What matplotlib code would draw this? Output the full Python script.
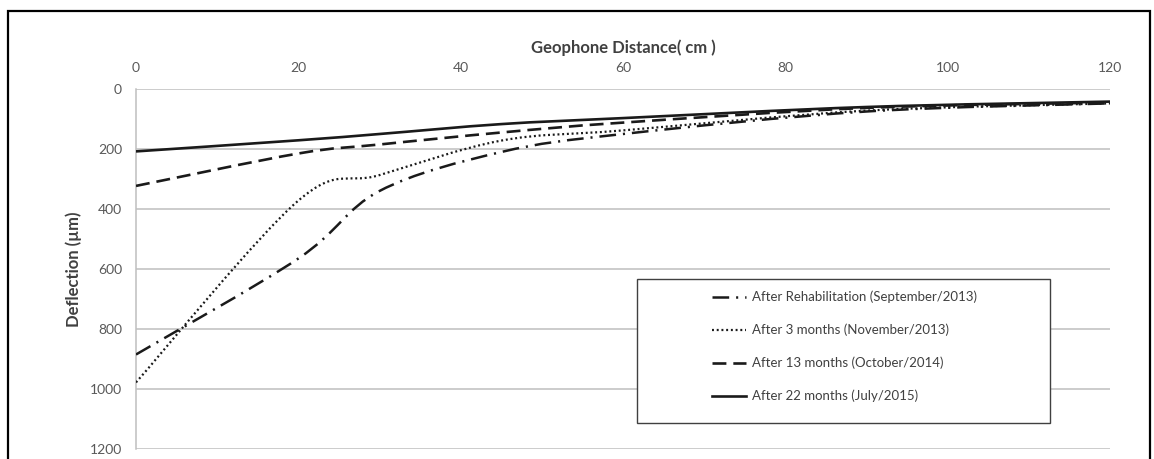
import matplotlib
matplotlib.use("Agg")
import matplotlib.pyplot as plt
from matplotlib.path import Path
from matplotlib.patches import PathPatch, Rectangle
from matplotlib.lines import Line2D

plt.rcParams['font.family'] = ['Lato', 'DejaVu Sans']
plt.rcParams['lines.scale_dashes'] = False

# geophone offsets (cm) and deflection basins (um)
distance = [0, 20, 30, 45, 60, 90, 120]
after_rehab = [885, 565, 340, 210, 150, 75, 48]
after_3m = [978, 372, 287, 172, 138, 72, 48]
after_13m = [323, 215, 185, 145, 112, 63, 45]
after_22m = [208, 171, 150, 117, 97, 60, 42]

labels = [
    "After Rehabilitation (September/2013)",
    "After 3 months (November/2013)",
    "After 13 months (October/2014)",
    "After 22 months (July/2015)",
]
styles = [
    (0, (12, 5, 1.5, 5)),
    (0, (1.4, 2.0)),
    (0, (10, 5)),
    "solid",
]
widths = [1.8, 1.6, 1.9, 1.9]
LINE = "#1a1a1a"
GRID = "#bfbfbf"
TICK = "#595959"


def smooth_path(xs, ys):
    # spreadsheet-style smoothed line: cubic Bezier through each point
    pts = list(zip(xs, ys))
    n = len(pts)
    verts = [pts[0]]
    codes = [Path.MOVETO]
    for i in range(n - 1):
        p0 = pts[i - 1] if i > 0 else pts[i]
        p1 = pts[i]
        p2 = pts[i + 1]
        p3 = pts[i + 2] if i + 2 < n else pts[i + 1]
        c1 = (p1[0] + (p2[0] - p0[0]) / 6, p1[1] + (p2[1] - p0[1]) / 6)
        c2 = (p2[0] - (p3[0] - p1[0]) / 6, p2[1] - (p3[1] - p1[1]) / 6)
        verts += [c1, c2, p2]
        codes += [Path.CURVE4] * 3
    return Path(verts, codes)


fig = plt.figure(figsize=(11.54, 4.59), dpi=100)
ax = fig.add_axes([136 / 1154, 1 - 449 / 459, (1110 - 136) / 1154, (449 - 89) / 459])

series = [after_rehab, after_3m, after_13m, after_22m]
for ys, ls, lw in zip(series, styles, widths):
    patch = PathPatch(smooth_path(distance, ys), fill=False, edgecolor=LINE,
                      linewidth=lw, linestyle=ls, zorder=3)
    ax.add_patch(patch)

ax.set_xlim(0, 120)
ax.set_ylim(1200, 0)
ax.set_xticks(range(0, 121, 20))
ax.set_yticks(range(0, 1201, 200))
ax.xaxis.tick_top()
ax.xaxis.set_label_position('top')
ax.tick_params(axis='both', length=0, labelsize=10, labelcolor=TICK)
ax.tick_params(axis='x', pad=11)
ax.tick_params(axis='y', pad=10)
ax.grid(axis='y', color=GRID, linewidth=1.1)
ax.grid(axis='x', visible=False)
for s in ax.spines.values():
    s.set_visible(False)
ax.spines['left'].set_visible(True)
ax.spines['left'].set_color(GRID)
ax.spines['left'].set_linewidth(1.1)

ax.set_xlabel("Geophone Distance( cm )", fontsize=12, fontweight='bold',
              color='#404040', labelpad=6)
ax.set_ylabel("Deflection (µm)", fontsize=12, fontweight='bold',
              color='#404040', labelpad=6)

# legend box
fig.patches.append(Rectangle((637 / 1154, 1 - 423 / 459), (1050 - 637) / 1154,
                             (423 - 279) / 459, transform=fig.transFigure,
                             facecolor='white', edgecolor='#404040', linewidth=1,
                             zorder=4))
handles = [Line2D([], [], color=LINE, linestyle=ls, linewidth=lw)
           for ls, lw in zip(styles, widths)]
fig.legend(handles, labels, loc='upper left',
           bbox_to_anchor=(705 / 1154, 1 - 284 / 459), frameon=False,
           fontsize=9.5, labelcolor='#404040', handlelength=2.6,
           handletextpad=0.5, labelspacing=1.55, borderpad=0)

# outer frame
fig.patches.append(Rectangle((8 / 1154, -0.05), (1150 - 8) / 1154, 1.05 - 11 / 459,
                             transform=fig.transFigure, fill=False,
                             edgecolor='black', linewidth=1.6))

fig.savefig("out.png", dpi=100)
